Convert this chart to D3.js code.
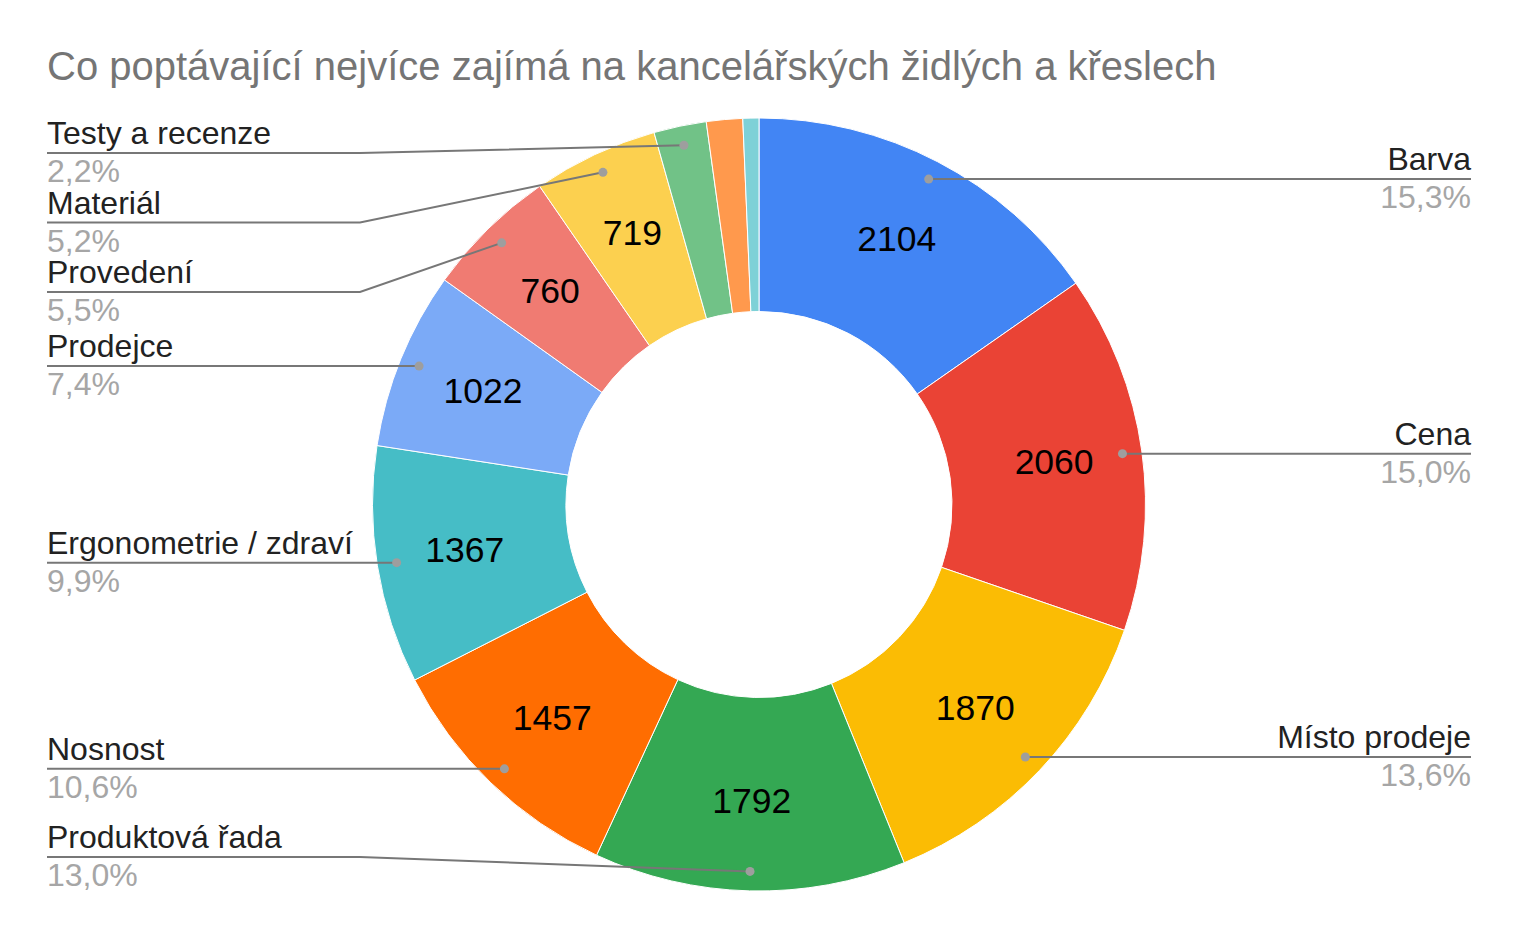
<!DOCTYPE html>
<html>
<head>
<meta charset="utf-8">
<script src="https://cdn.jsdelivr.net/npm/d3@7"></script>
<style>
  html, body { margin: 0; padding: 0; background: #fff; }
  svg { display: block; font-family: "Liberation Sans", Arial, sans-serif; }
</style>
</head>
<body>
<svg id="chart" width="1518" height="939"></svg>
<script>
// ---- data ----
const title = "Co poptávající nejvíce zajímá na kancelářských židlých a křeslech";
const categories = ["Barva", "Cena", "Místo prodeje", "Produktová řada", "Nosnost",
  "Ergonometrie / zdraví", "Prodejce", "Provedení", "Materiál", "Testy a recenze",
  "Ostatní 1", "Ostatní 2"];
const values = [2104, 2060, 1870, 1792, 1457, 1367, 1022, 760, 719, 302, 208, 92];
const colors = ["#4285F4", "#EA4335", "#FBBC04", "#34A853", "#FF6D01", "#46BDC6",
  "#7BAAF7", "#F07B72", "#FCD04F", "#71C287", "#FF994D", "#7ED1D7"];

// ---- layout ----
const W = 1518, H = 939;
const cx = 759, cy = 504.5;
const rOuter = 386.5, rInner = 193;
const rDot = 367, rValue = 298;
const leftX = 47, rightX = 1471, elbowL = 360, elbowR = 1158;
const minY = 153, maxY = 857, gap = 69.5;

const svg = d3.select("#chart");
svg.append("text").attr("x", 47).attr("y", 80)
  .attr("font-size", 40).attr("fill", "#757575").text(title);

const total = d3.sum(values);
const data = categories.map((c, i) => ({ name: c, value: values[i], color: colors[i] }));
const pie = d3.pie().value(d => d.value).sort(null);
const arcs = pie(data);
const arc = d3.arc().innerRadius(rInner).outerRadius(rOuter);

const g = svg.append("g").attr("transform", `translate(${cx},${cy})`);
g.selectAll("path.slice").data(arcs).join("path")
  .attr("class", "slice")
  .attr("d", arc)
  .attr("fill", d => d.data.color)
  .attr("stroke", "#fff").attr("stroke-width", 1);

const fmtPct = v => (v * 100).toFixed(1).replace(".", ",") + "%";

// value labels
const valueArc = d3.arc().innerRadius(rValue).outerRadius(rValue);
g.selectAll("text.val").data(arcs.filter(d => d.data.value / total >= 0.05)).join("text")
  .attr("class", "val")
  .attr("x", d => valueArc.centroid(d)[0])
  .attr("y", d => valueArc.centroid(d)[1])
  .attr("dy", "0.3em")
  .attr("text-anchor", "middle")
  .attr("font-size", 35.5).attr("fill", "#000")
  .text(d => d.data.value);

// outside labels
const labeled = arcs.filter(d => d.data.value / total >= 0.02).map(d => {
  const a = (d.startAngle + d.endAngle) / 2;
  const dx = cx + Math.sin(a) * rDot, dy = cy - Math.cos(a) * rDot;
  return { d, a, dotX: dx, dotY: dy, left: a > Math.PI, y: dy };
});
function layout(list) {
  list.sort((p, q) => p.dotY - q.dotY);
  list.forEach(l => { l.y = Math.max(minY, Math.min(maxY, l.dotY)); });
  for (let i = 1; i < list.length; i++) list[i].y = Math.max(list[i].y, list[i - 1].y + gap);
  if (list.length) list[list.length - 1].y = Math.min(list[list.length - 1].y, maxY);
  for (let i = list.length - 2; i >= 0; i--) list[i].y = Math.min(list[i].y, list[i + 1].y - gap);
}
const leftL = labeled.filter(l => l.left), rightL = labeled.filter(l => !l.left);
layout(leftL); layout(rightL);

const lg = svg.append("g");
labeled.forEach(l => {
  const endX = l.left ? leftX : rightX;
  const elbowX = l.left ? elbowL : elbowR;
  let pts;
  if (Math.abs(l.y - l.dotY) < 0.5) pts = [[l.dotX, l.dotY], [endX, l.y]];
  else pts = [[l.dotX, l.dotY], [elbowX, l.y], [endX, l.y]];
  lg.append("path").attr("d", d3.line()(pts))
    .attr("fill", "none").attr("stroke", "#777").attr("stroke-width", 2);
  lg.append("circle").attr("cx", l.dotX).attr("cy", l.dotY).attr("r", 4.5).attr("fill", "#9e9e9e");
  const anchor = l.left ? "start" : "end";
  lg.append("text").attr("x", endX).attr("y", l.y - 9)
    .attr("text-anchor", anchor).attr("font-size", 32).attr("fill", "#222")
    .text(l.d.data.name);
  lg.append("text").attr("x", endX).attr("y", l.y + 29)
    .attr("text-anchor", anchor).attr("font-size", 32).attr("fill", "#a6a6a6")
    .text(fmtPct(l.d.data.value / total));
});
</script>
</body>
</html>
